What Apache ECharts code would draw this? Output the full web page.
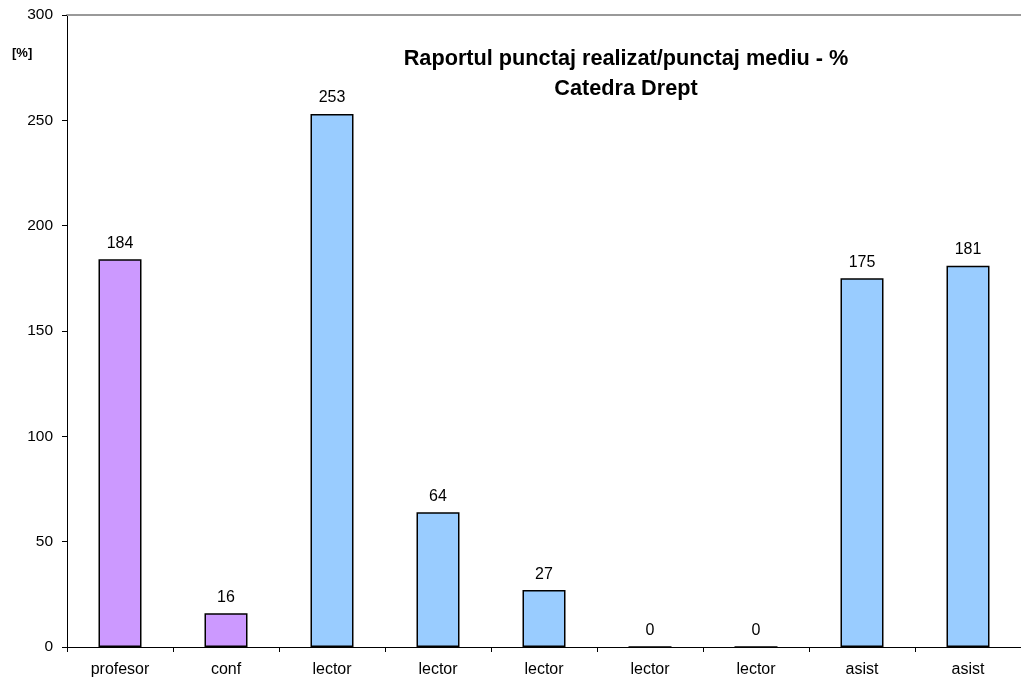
<!DOCTYPE html>
<html>
<head>
<meta charset="utf-8">
<script src="https://cdn.jsdelivr.net/npm/echarts@6/dist/echarts.min.js"></script>
<style>html,body{margin:0;padding:0;background:#fff}#c{width:1021px;height:683px}</style>
</head>
<body>
<div id="c"></div>
<script>
const categories = ['profesor','conf','lector','lector','lector','lector','lector','asist','asist'];
const values = [184, 16, 253, 64, 27, 0, 0, 175, 181];
const yTicks = [0, 50, 100, 150, 200, 250, 300];

const purple = '#CC99FF', blue = '#99CCFF';
const chart = echarts.init(document.getElementById('c'), null, {renderer:'canvas'});
const font = '"Liberation Sans", Arial, sans-serif';
chart.setOption({
  animation:false,
  backgroundColor:'#fff',
  title:{
    text:'Raportul punctaj realizat/punctaj mediu - %\nCatedra Drept',
    left:621, top:39, textAlign:'center',
    textStyle:{fontFamily:font, fontSize:21.7, fontWeight:'bold', color:'#000', lineHeight:30}
  },
  graphic:[{type:'text', left:12, top:47, style:{text:'[%]', fontFamily:font, fontSize:13, fontWeight:'bold', fill:'#000'}}],
  grid:{left:67, right:0, top:15, bottom:36, containLabel:false},
  xAxis:[{
    type:'category', data:categories,
    axisLine:{lineStyle:{color:'#000', width:1}},
    axisTick:{show:true, length:5, lineStyle:{color:'#000'}},
    axisLabel:{color:'#000', fontFamily:font, fontSize:16, margin:15}
  },{
    type:'category', data:categories, position:'top',
    axisLine:{show:true, lineStyle:{color:'#999', width:2}},
    axisTick:{show:false}, axisLabel:{show:false}
  }],
  yAxis:{
    type:'value', min:yTicks[0], max:yTicks[yTicks.length-1], interval:yTicks[1]-yTicks[0],
    axisLine:{show:true, lineStyle:{color:'#000'}},
    axisTick:{show:true, length:5, lineStyle:{color:'#000'}},
    splitLine:{show:false},
    axisLabel:{color:'#000', fontFamily:font, fontSize:15.5, margin:14}
  },
  series:[{
    type:'bar',
    data:values.map((v,i)=>({value:v, itemStyle:{color: i<2 ? purple : blue}})),
    barWidth:43,
    itemStyle:{borderColor:'#000', borderWidth:1.5},
    label:{show:true, position:'top', distance:8, color:'#000', fontFamily:font, fontSize:16}
  }]
});
</script>
</body>
</html>
